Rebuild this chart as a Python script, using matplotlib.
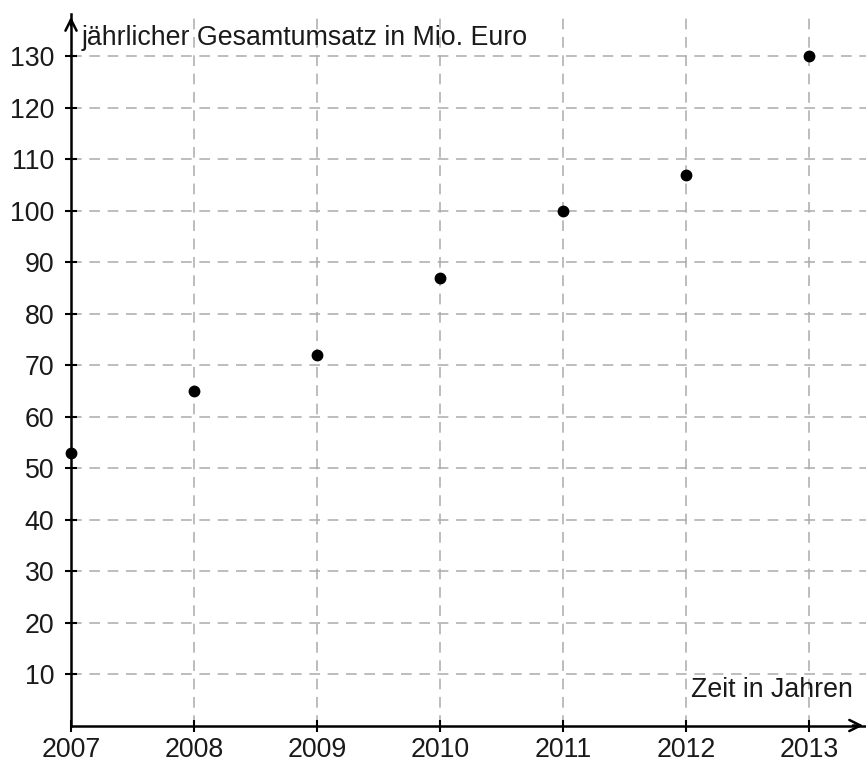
import matplotlib
matplotlib.use("Agg")
import matplotlib.pyplot as plt

years = [2007, 2008, 2009, 2010, 2011, 2012, 2013]
umsatz = [53, 65, 72, 87, 100, 107, 130]
yticks = [10, 20, 30, 40, 50, 60, 70, 80, 90, 100, 110, 120, 130]

plt.rcParams['font.family'] = ['Liberation Sans', 'DejaVu Sans']

FS = 19.3

fig = plt.figure(figsize=(8.66, 7.65), dpi=100)
ax = fig.add_axes([71/866, 39.5/765, (866-71)/866, (725.5-14)/765])

ax.set_xlim(2007, 2013.46)
ax.set_ylim(0, 138.2)

ax.set_xticks(years)
ax.set_xticklabels([str(y) for y in years])
ax.set_yticks(yticks)

ax.grid(True, color='#ababab', linestyle=(0, (7, 5)), linewidth=1.1)
ax.set_axisbelow(True)

for s in ['top', 'right']:
    ax.spines[s].set_visible(False)
for s in ['left', 'bottom']:
    ax.spines[s].set_linewidth(1.8)
    ax.spines[s].set_zorder(5)

ax.tick_params(axis='both', direction='inout', length=8, width=1.5,
               labelsize=FS, colors='black', labelcolor='#1a1a1a')
ax.tick_params(axis='y', pad=8)
ax.tick_params(axis='x', pad=4.5)

ax.plot(years, umsatz, 'o', color='black', markersize=7.5, zorder=6, clip_on=False)

# arrows
ax.annotate('', xy=(1.0, 0), xytext=(0.98, 0), xycoords='axes fraction',
            arrowprops=dict(arrowstyle='->', lw=1.8, color='black', mutation_scale=20))
ax.annotate('', xy=(0, 1.0), xytext=(0, 0.98), xycoords='axes fraction',
            arrowprops=dict(arrowstyle='->', lw=1.8, color='black', mutation_scale=20))

fig.text(82/866, 1 - 45/765, 'jährlicher Gesamtumsatz in Mio. Euro', fontsize=FS,
         ha='left', va='baseline', color='#1a1a1a')
fig.text(853/866, 1 - 697/765, 'Zeit in Jahren', fontsize=FS,
         ha='right', va='baseline', color='#1a1a1a')

fig.savefig('out.png', dpi=100)
